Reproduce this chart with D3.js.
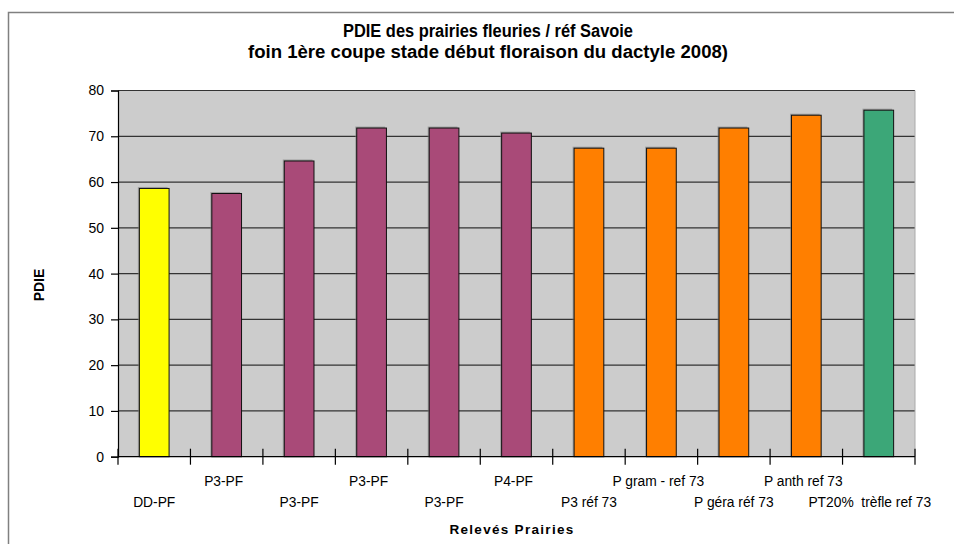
<!DOCTYPE html>
<html><head><meta charset="utf-8">
<script src="https://cdn.jsdelivr.net/npm/d3@7"></script>
<style>body{margin:0;background:#fff;}svg{display:block;font-family:"Liberation Sans",Arial,sans-serif;}</style>
</head><body>
<svg id="c" width="954" height="544"></svg>
<script>
const categories = ["DD-PF","P3-PF","P3-PF","P3-PF","P3-PF","P4-PF","P3 réf 73","P gram - ref 73","P géra réf 73","P anth ref 73","PT20%  trèfle ref 73"];
const values = [58.6,57.5,64.6,71.8,71.8,70.7,67.4,67.4,71.8,74.6,75.7];
const barColors = ["#FFFF00","#A94A78","#A94A78","#A94A78","#A94A78","#A94A78","#FF7F00","#FF7F00","#FF7F00","#FF7F00","#3CA778"];
const yTicks = [0,10,20,30,40,50,60,70,80];
const titleLines = ["PDIE des prairies fleuries / réf Savoie","foin 1ère coupe stade début floraison du dactyle 2008)"];

const svg = d3.select("#c");
const L=118, R=915, T=90.5, B=456.7;

svg.append("rect").attr("x",8.5).attr("y",12.5).attr("width",960).attr("height",560)
  .attr("fill","#fff").attr("stroke","#808080").attr("stroke-width",1.5);

const x = d3.scaleBand().domain(d3.range(categories.length)).range([L,R]).paddingInner(0.59).paddingOuter(0.295);
const y = d3.scaleLinear().domain([0,80]).range([B,T]);

svg.append("rect").attr("x",L).attr("y",T).attr("width",R-L).attr("height",B-T).attr("fill","#cccccc");

svg.append("g").selectAll("line").data(yTicks.filter(d=>d>0)).join("line")
  .attr("x1",L).attr("x2",R).attr("y1",d=>y(d)).attr("y2",d=>y(d))
  .attr("stroke","#333").attr("stroke-width",1.2);
svg.append("line").attr("x1",R).attr("x2",R).attr("y1",T).attr("y2",B).attr("stroke","#aaa").attr("stroke-width",1);

svg.append("g").selectAll("rect").data(values).join("rect")
  .attr("x",(d,i)=>x(i)-1.5).attr("y",d=>y(d)-1.5).attr("width",x.bandwidth()).attr("height",d=>B-y(d)+1.5)
  .attr("fill","#808080").attr("opacity",0.6);
svg.append("g").selectAll("rect").data(values).join("rect")
  .attr("x",(d,i)=>x(i)).attr("y",d=>y(d)).attr("width",x.bandwidth()).attr("height",d=>B-y(d))
  .attr("fill",(d,i)=>barColors[i]).attr("stroke","#111").attr("stroke-width",1);

const ya = svg.append("g").attr("transform",`translate(${L},0)`)
  .call(d3.axisLeft(y).tickValues(yTicks).tickSize(7).tickPadding(7));
ya.select(".domain").attr("stroke","#000").attr("stroke-width",1.2);
ya.selectAll(".tick line").attr("stroke","#000").attr("stroke-width",1.2);
ya.selectAll("text").attr("font-size",14).attr("fill","#000").attr("font-family","Liberation Sans, Arial, sans-serif");

svg.append("line").attr("x1",L).attr("x2",R).attr("y1",B).attr("y2",B).attr("stroke","#000").attr("stroke-width",1.2);
const xt = d3.scaleLinear().domain([0,categories.length]).range([L,R]);
svg.append("g").selectAll("line").data(d3.range(categories.length+1)).join("line")
  .attr("x1",d=>xt(d)).attr("x2",d=>xt(d)).attr("y1",B-8).attr("y2",B+8)
  .attr("stroke","#000").attr("stroke-width",1.2);

svg.append("g").selectAll("text").data(categories).join("text")
  .attr("x",(d,i)=>x(i)+x.bandwidth()/2 - (i===categories.length-1?9:(i%2===1?3:0)))
  .attr("y",(d,i)=>i%2===0?507:486)
  .attr("text-anchor","middle").attr("font-size",13.8).attr("fill","#000")
  .style("white-space","pre").text(d=>d);

const tw = [290, 480];
svg.append("g").selectAll("text").data(titleLines).join("text")
  .attr("x",488).attr("y",(d,i)=>37+i*21).attr("text-anchor","middle")
  .attr("textLength",(d,i)=>tw[i]).attr("lengthAdjust","spacingAndGlyphs")
  .attr("font-size",17.5).attr("font-weight","bold").attr("fill","#000").text(d=>d);

svg.append("text").attr("transform","translate(44,285) rotate(-90)").attr("text-anchor","middle")
  .attr("font-size",14).attr("font-weight","bold").text("PDIE");
svg.append("text").attr("x",512).attr("y",534).attr("text-anchor","middle")
  .attr("font-size",13.5).attr("font-weight","bold").attr("letter-spacing",1.3).text("Relevés Prairies");
</script>
</body></html>
